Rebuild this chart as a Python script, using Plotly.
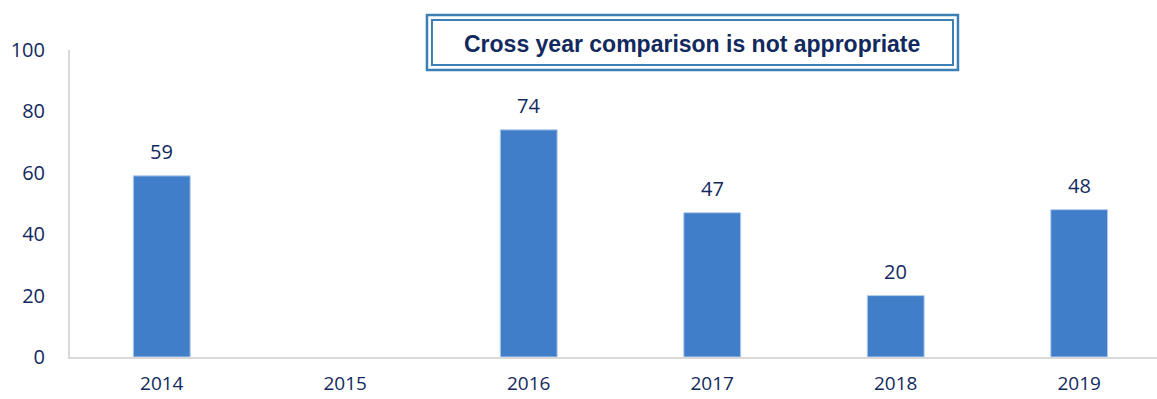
import plotly.graph_objects as go

years = ["2014", "2015", "2016", "2017", "2018", "2019"]
values = [59, None, 74, 47, 20, 48]
y_ticks = [0, 20, 40, 60, 80, 100]
note = "Cross year comparison is not appropriate"

text_color = "#12295e"
bar_color = "#407ec9"
axis_color = "#d9d9d9"
box_color = "#3c7fb4"

fig = go.Figure()
fig.add_trace(go.Bar(
    x=years, y=values, width=0.31,
    marker=dict(color=bar_color, line=dict(color="#b5cdee", width=1)),
    hoverinfo="x+y",
))

for i, v in enumerate(values):
    if v is None:
        continue
    fig.add_annotation(x=i, y=v, xref="x", yref="y", text=str(v), showarrow=False,
                       yanchor="middle", yshift=24,
                       font=dict(family="Open Sans", size=20, color=text_color))

# double-bordered note box
fig.add_shape(type="rect", xref="paper", yref="paper",
              x0=0.3284, x1=0.8169, y0=0.935, y1=1.1138,
              line=dict(color=box_color, width=2.5), fillcolor="white")
fig.add_shape(type="rect", xref="paper", yref="paper",
              x0=0.3330, x1=0.8123, y0=0.951, y1=1.0976,
              line=dict(color=box_color, width=2), fillcolor="rgba(0,0,0,0)")
fig.add_annotation(xref="paper", yref="paper", x=0.5725, y=1.018,
                   text="<b>" + note + "</b>", showarrow=False,
                   xanchor="center", yanchor="middle",
                   font=dict(family="Liberation Sans", size=23, color=text_color))

fig.update_layout(
    width=1157, height=399,
    margin=dict(l=70, r=0, t=50, b=41.5),
    paper_bgcolor="white", plot_bgcolor="white",
    showlegend=False,
    font=dict(family="Open Sans", color=text_color),
)
fig.update_xaxes(
    type="category", range=[-0.5, 5.424], automargin=False,
    showgrid=False, zeroline=False,
    showline=True, linecolor=axis_color, linewidth=2,
    ticks="", ticklabelstandoff=8,
    tickfont=dict(family="Open Sans", size=19, color=text_color),
)
fig.update_yaxes(
    range=[0, 100], tickvals=y_ticks, automargin=False,
    showgrid=False, zeroline=False,
    showline=True, linecolor=axis_color, linewidth=2,
    ticks="", ticklabelstandoff=19,
    tickfont=dict(family="Open Sans", size=20, color=text_color),
)

fig.write_html("out.html")
